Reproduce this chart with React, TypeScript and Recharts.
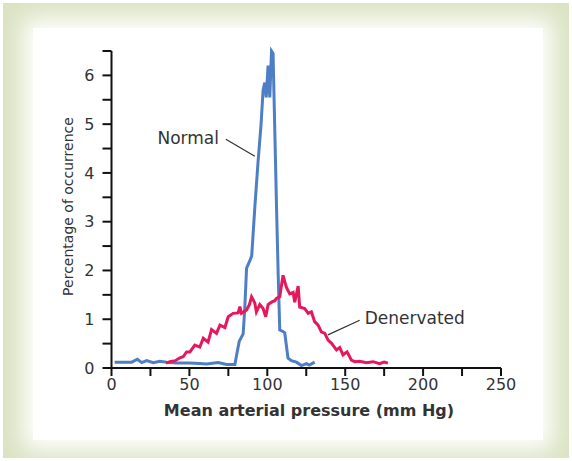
import { LineChart, Line, XAxis, YAxis, ReferenceLine, ReferenceDot } from 'recharts';

const normalX = [2, 8, 13, 16.6, 19.4, 22.6, 26.8, 31, 35.4, 41.8, 50, 56.7, 61, 68.5, 73.9, 79.2, 80.5, 82, 84.5, 85.5, 86.7, 88.8, 90, 92, 94, 96, 97.3, 98.4, 99.3, 100.5, 101.6, 102.7, 103.7, 105, 106, 107, 108, 110, 111.2, 113.3, 115.5, 118.7, 121.9, 125.1, 127, 130.4];
const normalY = [0.12, 0.12, 0.12, 0.18, 0.11, 0.15, 0.11, 0.14, 0.12, 0.1, 0.1, 0.09, 0.08, 0.11, 0.07, 0.07, 0.3, 0.55, 0.7, 1.2, 2.05, 2.2, 2.3, 3.3, 4.2, 5.0, 5.7, 5.85, 5.55, 6.2, 5.55, 6.5, 6.45, 4.6, 3.2, 1.9, 0.78, 0.75, 0.72, 0.2, 0.15, 0.12, 0.05, 0.09, 0.06, 0.12];

const denervatedX = [35, 37.5, 41, 43.9, 46, 48.2, 50.3, 53.5, 56.7, 58.9, 62, 64.2, 67.4, 69.6, 72.8, 74.9, 78.1, 81.3, 82.4, 83.4, 86.7, 88.5, 89.9, 92, 93, 95.2, 97.3, 99, 100.5, 102.7, 104.8, 106, 108, 110.1, 112.3, 114.4, 116.6, 117.6, 119.8, 120.8, 124, 126.2, 128.3, 130.4, 132.6, 134.7, 136.9, 139, 141.1, 144.4, 146.5, 148.6, 151.2, 154, 156.1, 159.3, 163.6, 167.9, 172, 175, 177.4];
const denervatedY = [0.1, 0.13, 0.15, 0.21, 0.23, 0.33, 0.33, 0.47, 0.43, 0.61, 0.53, 0.79, 0.71, 0.88, 0.83, 1.05, 1.12, 1.13, 1.26, 1.12, 1.19, 1.3, 1.46, 1.33, 1.15, 1.3, 1.22, 1.05, 1.3, 1.35, 1.38, 1.43, 1.46, 1.9, 1.65, 1.52, 1.55, 1.35, 1.68, 1.25, 1.22, 1.12, 1.15, 0.95, 0.88, 0.74, 0.71, 0.57, 0.51, 0.37, 0.42, 0.27, 0.33, 0.16, 0.13, 0.14, 0.11, 0.13, 0.09, 0.12, 0.1];

const xTicks = [0, 25, 50, 75, 100, 125, 150, 175, 200, 225, 250];
const yTicks = [0, 0.5, 1, 1.5, 2, 2.5, 3, 3.5, 4, 4.5, 5, 5.5, 6, 6.5];

const normalData = normalX.map((x, i) => ({ x, y: normalY[i] }));
const denervatedData = denervatedX.map((x, i) => ({ x, y: denervatedY[i] }));

const FONT = '"DejaVu Sans", Verdana, sans-serif';

function YLabel({ viewBox }: any) {
  const cx = viewBox.x + 67.5;
  const cy = viewBox.y + viewBox.height / 2 - 3;
  return (
    <text x={cx} y={cy} transform={`rotate(-90, ${cx}, ${cy})`} textAnchor="middle" dominantBaseline="central"
      fill="#333" fontSize={14} fontFamily={FONT}>
      Percentage of occurrence
    </text>
  );
}

function XLabel({ viewBox }: any) {
  return (
    <text x={309} y={viewBox.y + 42} textAnchor="middle" dominantBaseline="central"
      fill="#333" fontSize={16} fontWeight="bold" fontFamily={FONT}>
      Mean arterial pressure (mm Hg)
    </text>
  );
}

function NoteText({ text, anchor }: { text: string; anchor: 'start' | 'end' }) {
  return ({ viewBox }: any) => (
    <text x={viewBox.x} y={viewBox.y} textAnchor={anchor} dominantBaseline="central"
      fill="#333" fontSize={17} fontFamily={FONT}>
      {text}
    </text>
  );
}

export default function App() {
  return (
    <div style={{ position: 'absolute', left: 0, top: 0, width: 572, height: 461, background: '#fff' }}>
      <div style={{ position: 'absolute', left: 3, top: 3, width: 566, height: 455, background: '#dbe3c3' }} />
      <div style={{ position: 'absolute', left: 33, top: 28, width: 510, height: 412, background: '#fff', boxShadow: '0 0 22px 10px #fff' }} />
      <div style={{ position: 'absolute', left: 0, top: 0 }}>
        <LineChart width={572} height={461} margin={{ top: 51, right: 71, bottom: 0, left: 0 }}>
          <XAxis type="number" dataKey="x" domain={[0, 250]} ticks={xTicks} interval={0}
            tickFormatter={(v) => (v % 50 === 0 ? String(v) : '')}
            allowDuplicatedCategory={false}
            stroke="#111" strokeWidth={2} tickSize={8} tickMargin={3} height={93}
            tick={{ fill: '#333', fontSize: 16, fontFamily: FONT }}
            label={<XLabel />} />
          <YAxis type="number" dataKey="y" domain={[0, 6.5]} ticks={yTicks} interval={0}
            tickFormatter={(v) => (v % 1 === 0 ? String(v) : '')}
            stroke="#111" strokeWidth={2} tickSize={9} tickMargin={8} width={111.5}
            tick={{ fill: '#333', fontSize: 16, fontFamily: FONT }}
            label={<YLabel />} />
          <Line data={normalData} dataKey="y" type="linear" stroke="#4d7ec6" strokeWidth={3}
            dot={false} isAnimationActive={false} />
          <Line data={denervatedData} dataKey="y" type="linear" stroke="#e5185c" strokeWidth={3}
            dot={false} isAnimationActive={false} />
          <ReferenceLine segment={[{ x: 73.4, y: 4.69 }, { x: 92, y: 4.34 }]} stroke="#333" strokeWidth={1.2} ifOverflow="visible" />
          <ReferenceLine segment={[{ x: 159.3, y: 0.98 }, { x: 138.9, y: 0.68 }]} stroke="#333" strokeWidth={1.2} ifOverflow="visible" />
          <ReferenceDot x={69} y={4.71} r={0} fill="none" stroke="none" ifOverflow="visible"
            label={NoteText({ text: 'Normal', anchor: 'end' })} />
          <ReferenceDot x={162.5} y={1.02} r={0} fill="none" stroke="none" ifOverflow="visible"
            label={NoteText({ text: 'Denervated', anchor: 'start' })} />
        </LineChart>
      </div>
    </div>
  );
}
